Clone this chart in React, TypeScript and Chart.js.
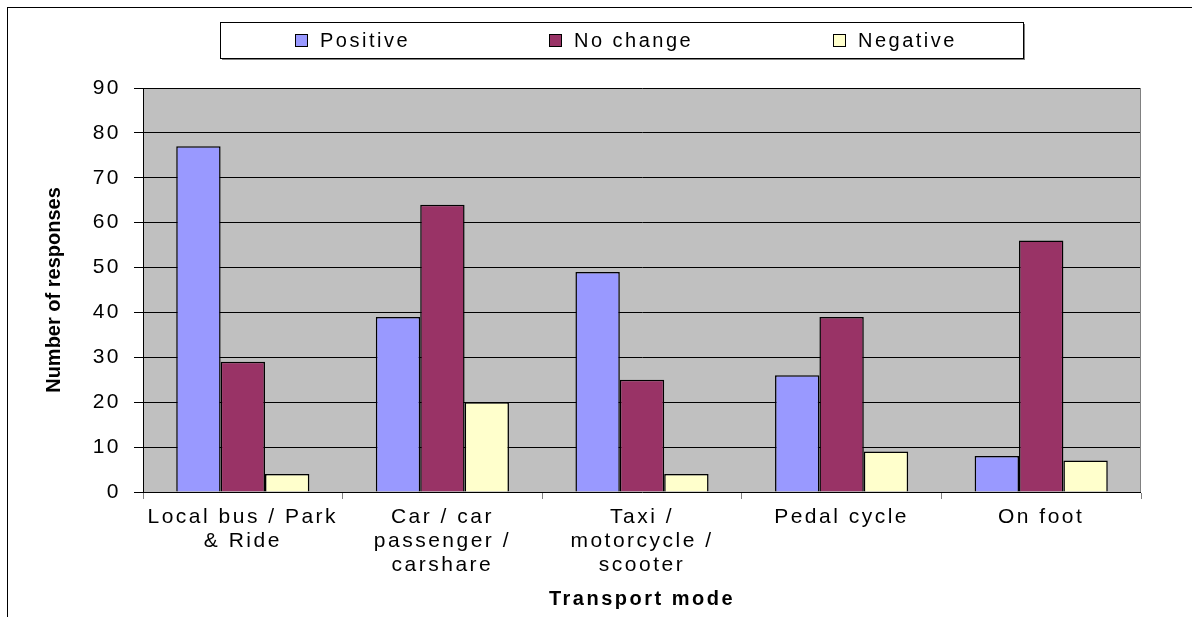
import React, { useEffect, useRef } from 'react';
import { Chart, registerables } from 'chart.js';

Chart.register(...registerables);

// ---- data ----
const categories: (string | string[])[] = [
  ['Local bus / Park', '& Ride'],
  ['Car / car', 'passenger /', 'carshare'],
  ['Taxi /', 'motorcycle /', 'scooter'],
  'Pedal cycle',
  'On foot',
];
const seriesNames = ['Positive', 'No change', 'Negative'];
const positiveValues = [77, 39, 49, 26, 8];
const noChangeValues = [29, 64, 25, 39, 56];
const negativeValues = [4, 20, 4, 9, 7];
const yMin = 0;
const yMax = 90;
const yStep = 10;
const xTitle = 'Transport mode';
const yTitle = 'Number of responses';

// ---- styles ----
const FONT = "'Liberation Sans', Arial, Helvetica, sans-serif";
const COLORS = ['#9999FF', '#993366', '#FFFFCC'];
const PLOT_BG = '#C0C0C0';
const SPACING = '2.5px';

const LEGEND_BOX = { x: 220, y: 22, w: 803, h: 36 };
const LEGEND_SQUARE_X = [295, 549, 833];

const decorPlugin = {
  id: 'decor',
  beforeDraw(chart: any) {
    const { ctx, chartArea, width, height } = chart;
    ctx.letterSpacing = '0px';
    ctx.save();
    ctx.fillStyle = '#ffffff';
    ctx.fillRect(0, 0, width, height);
    ctx.fillStyle = PLOT_BG;
    ctx.fillRect(chartArea.left, chartArea.top, chartArea.right - chartArea.left, chartArea.bottom - chartArea.top);
    ctx.restore();
  },
  beforeDatasetsDraw(chart: any) {
    const { ctx, chartArea } = chart;
    ctx.save();
    ctx.fillStyle = '#808080';
    ctx.fillRect(chartArea.right - 1, chartArea.top, 1, chartArea.bottom - chartArea.top);
    ctx.restore();
  },
  afterDatasetsDraw(chart: any) {
    chart.ctx.letterSpacing = SPACING;
  },
  afterDraw(chart: any) {
    const { ctx, width, height } = chart;
    const b = LEGEND_BOX;
    ctx.save();
    ctx.fillStyle = '#ffffff';
    ctx.fillRect(0, 0, width, 7);
    // outer frame (left and top edges; right/bottom lie outside the view)
    ctx.fillStyle = '#000';
    ctx.fillRect(7, 7, width - 7, 1);
    ctx.fillRect(7, 7, 1, height - 7);

    ctx.letterSpacing = SPACING;
    ctx.fillStyle = '#fff';
    ctx.fillRect(b.x, b.y, b.w, b.h);
    ctx.fillStyle = '#808080';
    ctx.fillRect(b.x + 2, b.y + b.h, b.w, 2);
    ctx.fillRect(b.x + b.w, b.y + 2, 2, b.h);
    ctx.strokeStyle = '#000';
    ctx.lineWidth = 1;
    ctx.strokeRect(b.x + 0.5, b.y + 0.5, b.w, b.h);
    ctx.font = `20px ${FONT}`;
    ctx.textBaseline = 'middle';
    ctx.textAlign = 'left';
    chart.data.datasets.forEach((ds: any, i: number) => {
      const sx = LEGEND_SQUARE_X[i];
      ctx.fillStyle = ds.backgroundColor;
      ctx.fillRect(sx, 34, 13, 13);
      ctx.strokeStyle = '#000';
      ctx.strokeRect(sx + 0.5, 34.5, 12, 12);
      ctx.fillStyle = '#000';
      ctx.fillText(ds.label, sx + 25, 41);
    });
    ctx.restore();
    ctx.letterSpacing = '0px';
  },
};

export default function App() {
  const ref = useRef<HTMLCanvasElement | null>(null);

  useEffect(() => {
    if (!ref.current) return;
    const values = [positiveValues, noChangeValues, negativeValues];
    const chart = new Chart(ref.current, {
      type: 'bar',
      data: {
        labels: categories,
        datasets: seriesNames.map((name, i) => ({
          label: name,
          data: values[i],
          backgroundColor: COLORS[i],
          borderColor: '#000',
          borderWidth: 1.5,
          categoryPercentage: 0.667,
          barPercentage: 1,
        })),
      },
      options: {
        responsive: false,
        animation: false,
        devicePixelRatio: 1,
        layout: { padding: { left: 0, right: 51, top: 88, bottom: 0 } },
        plugins: {
          legend: { display: false },
          title: { display: false },
          subtitle: { display: false },
          tooltip: { enabled: false },
        },
        scales: {
          x: {
            type: 'category',
            offset: true,
            grid: {
              display: true,
              drawOnChartArea: false,
              drawTicks: true,
              tickLength: 7,
              tickColor: '#808080',
              offset: true,
              z: 1,
            },
            border: { display: true, color: '#000', width: 1 },
            ticks: {
              color: '#000',
              font: { family: FONT, size: 21, lineHeight: 24 / 21 },
              padding: 6,
              maxRotation: 0,
              minRotation: 0,
              autoSkip: false,
              z: 1,
            },
            title: {
              display: true,
              text: xTitle,
              color: '#000',
              font: { family: FONT, size: 20, weight: 'bold', lineHeight: 1.2 },
              padding: { top: 0, bottom: 6 },
            },
            afterFit: (s: any) => {
              s.height = 125;
            },
          },
          y: {
            min: yMin,
            max: yMax,
            grid: {
              color: '#000',
              lineWidth: 1,
              tickLength: 9,
              tickColor: '#000',
            },
            border: { display: true, color: '#000', width: 1 },
            ticks: {
              stepSize: yStep,
              color: '#000',
              font: { family: FONT, size: 21 },
              padding: 13,
              z: 1,
            },
            title: {
              display: true,
              text: yTitle,
              color: '#000',
              font: { family: FONT, size: 20, weight: 'bold', lineHeight: 1.2 },
              padding: { top: 42, bottom: 0 },
            },
            afterFit: (s: any) => {
              s.width = 143;
            },
          },
        },
      } as any,
      plugins: [decorPlugin],
    });
    return () => chart.destroy();
  }, []);

  return (
    <div style={{ position: 'absolute', left: 0, top: 0, width: 1192, height: 617, overflow: 'hidden' }}>
      <canvas ref={ref} width={1192} height={617} style={{ display: 'block' }} />
    </div>
  );
}
